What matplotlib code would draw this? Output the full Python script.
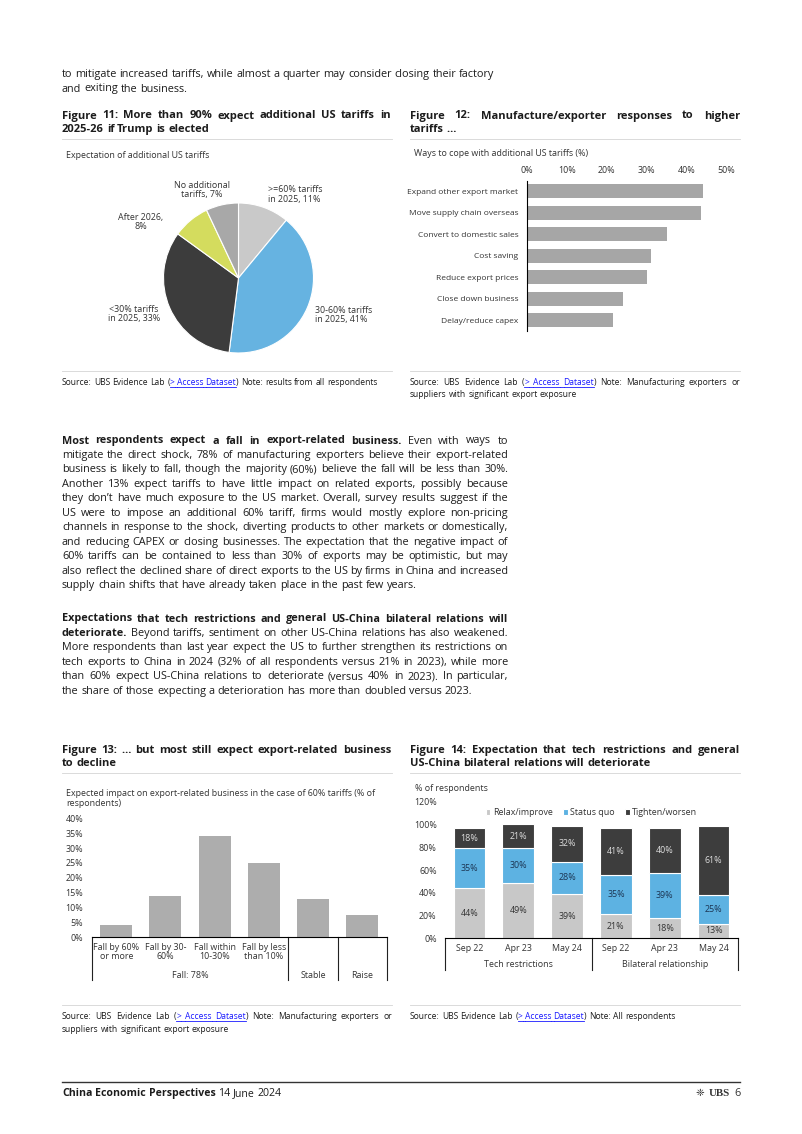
import re

import matplotlib

matplotlib.use("Agg")
import matplotlib.pyplot as plt
from matplotlib.font_manager import FontProperties
from matplotlib.lines import Line2D

W, H = 802, 1134
FONT = "Open Sans"
INK = "#1c1c1c"
RULE = "#d4d4d4"

# Figure 11: expectation of additional US tariffs (% of respondents)
pie_labels = [">=60% tariffs\nin 2025, 11%", "30-60% tariffs\nin 2025, 41%",
              "<30% tariffs\nin 2025, 33%", "After 2026,\n8%", "No additional\ntariffs, 7%"]
pie_values = [11, 41, 33, 8, 7]
pie_colors = ["#c9c9c9", "#66b3e1", "#3c3c3c", "#d4dc5e", "#a8a8a8"]

# Figure 12: ways to cope with additional US tariffs (%)
cope_labels = ["Expand other export market", "Move supply chain overseas", "Convert to domestic sales",
               "Cost saving", "Reduce export prices", "Close down business", "Delay/reduce capex"]
cope_values = [44, 43.5, 35, 31, 30, 24, 21.5]

# Figure 13: expected impact on export-related business with 60% tariffs
impact_ticks = ["Fall by 60%\nor more", "Fall by 30-\n60%", "Fall within\n10-30%",
                "Fall by less\nthan 10%", "", ""]
impact_values = [4, 14, 34, 25, 13, 7.5]
impact_groups = [("Fall: 78%", 0, 3), ("Stable", 4, 4), ("Raise", 5, 5)]

# Figure 14: expectation on tech restrictions / bilateral relations
periods = ["Sep 22", "Apr 23", "May 24", "Sep 22", "Apr 23", "May 24"]
relax = [44, 49, 39, 21, 18, 13]
status_quo = [35, 30, 28, 35, 39, 25]
tighten = [18, 21, 32, 41, 40, 61]
period_groups = [("Tech restrictions", 0, 2), ("Bilateral relationship", 3, 5)]

intro_lines = [
    [("to mitigate increased tariffs, while almost a quarter may consider closing their factory", "r")],
    [("and exiting the business.", "r")],
]

para1 = [
    [("Most respondents expect a fall in export-related business.", "b"), (" Even with ways to", "r")],
    [("mitigate the direct shock, 78% of manufacturing exporters believe their export-related", "r")],
    [("business is likely to fall, though the majority (60%) believe the fall will be less than 30%.", "r")],
    [("Another 13% expect tariffs to have little impact on related exports, possibly because", "r")],
    [("they don\u2019t have much exposure to the US market. Overall, survey results suggest if the", "r")],
    [("US were to impose an additional 60% tariff, firms would mostly explore non-pricing", "r")],
    [("channels in response to the shock, diverting products to other markets or domestically,", "r")],
    [("and reducing CAPEX or closing businesses. The expectation that the negative impact of", "r")],
    [("60% tariffs can be contained to less than 30% of exports may be optimistic, but may", "r")],
    [("also reflect the declined share of direct exports to the US by firms in China and increased", "r")],
    [("supply chain shifts that have already taken place in the past few years.", "r")],
]

para2 = [
    [("Expectations that tech restrictions and general US-China bilateral relations will", "b")],
    [("deteriorate.", "b"), (" Beyond tariffs, sentiment on other US-China relations has also weakened.", "r")],
    [("More respondents than last year expect the US to further strengthen its restrictions on", "r")],
    [("tech exports to China in 2024 (32% of all respondents versus 21% in 2023), while more", "r")],
    [("than 60% expect US-China relations to deteriorate (versus 40% in 2023). In particular,", "r")],
    [("the share of those expecting a deterioration has more than doubled versus 2023.", "r")],
]

fig = plt.figure(figsize=(W / 100, H / 100), dpi=100)
fig.patch.set_facecolor("white")
renderer = fig.canvas.get_renderer()


def fx(x):
    return x / W


def fy(y):
    return 1 - y / H


def props(style, size):
    weight = "bold" if style == "b" else "normal"
    return FontProperties(family=FONT, weight=weight, size=size)


def text_width(s, prop):
    w, _, _ = renderer.get_text_width_height_descent(s, prop, ismath=False)
    return w


def measure(runs, size):
    toks = []
    for text, style in runs:
        for m in re.findall(r"\s*\S+", text):
            toks.append((m.strip(), style, m[0].isspace()))
    prop_r = props("r", size)
    space = text_width("x x", prop_r) - text_width("xx", prop_r)
    widths = [text_width(t, props(s, size)) for t, s, _ in toks]
    n_gaps = sum(1 for i, t in enumerate(toks) if i > 0 and t[2])
    return toks, widths, space, n_gaps


def draw_line(runs, x0, y, size, width=None):
    """Draw one line of mixed-style words on baseline y, optionally justified."""
    toks, widths, space, n_gaps = measure(runs, size)
    # shrink a line that would not fit the column
    while width is not None and n_gaps and (width - sum(widths)) / n_gaps < 0.75 * space:
        size *= 0.98
        toks, widths, space, n_gaps = measure(runs, size)
    gap = space
    if width is not None and n_gaps:
        gap = (width - sum(widths)) / n_gaps
    x = x0
    prev = None
    for i, ((t, style, sb), w) in enumerate(zip(toks, widths)):
        if i > 0 and sb:
            if prev == "l" and style == "l":
                fig.add_artist(Line2D([fx(x), fx(x + gap)], [fy(y + 1.6)] * 2, color="#1a1aff", lw=0.6))
            x += gap
        color = "#1a1aff" if style == "l" else INK
        fig.text(fx(x), fy(y), t, fontproperties=props(style, size), color=color, va="baseline", ha="left")
        if style == "l":
            fig.add_artist(Line2D([fx(x), fx(x + w)], [fy(y + 1.6)] * 2, color="#1a1aff", lw=0.6))
        x += w
        prev = style


def draw_paragraph(lines, x0, y0, step, size, width):
    for i, runs in enumerate(lines):
        last = i == len(lines) - 1
        draw_line(runs, x0, y0 + i * step, size, None if last else width)


def hrule(x0, x1, y, color=RULE, lw=0.6):
    fig.add_artist(Line2D([fx(x0), fx(x1)], [fy(y), fy(y)], color=color, lw=lw))


def add_axes_px(x0, y0, x1, y1):
    return fig.add_axes([fx(x0), fy(y1), (x1 - x0) / W, (y1 - y0) / H])


BODY = 7.8
TITLE = 8.0
CHART = 6.4
NOTE = 6.15

# body text
draw_paragraph(intro_lines, 62, 77, 14.5, BODY, None)
draw_paragraph(para1, 62, 443.5, 14.45, BODY, 446)
draw_paragraph(para2, 62, 621.5, 14.47, BODY, 446)

# figure titles
draw_paragraph([[("Figure 11: More than 90% expect additional US tariffs in", "b")],
                [("2025-26 if Trump is elected", "b")]], 62, 118.5, 13.5, TITLE, 329)
draw_paragraph([[("Figure 12: Manufacture/exporter responses to higher", "b")],
                [("tariffs \u2026", "b")]], 410, 118.5, 13.5, TITLE, 330)
draw_paragraph([[("Figure 13: \u2026 but most still expect export-related business", "b")],
                [("to decline", "b")]], 62, 753, 13.5, TITLE, 329)
draw_paragraph([[("Figure 14: Expectation that tech restrictions and general", "b")],
                [("US-China bilateral relations will deteriorate", "b")]], 410, 753, 13.5, TITLE, 330)
for y in (139, 773):
    hrule(62, 392, y)
    hrule(410, 740, y)
for y in (371, 1005):
    hrule(62, 392, y)
    hrule(410, 740, y)

# sources
src = [("Source: UBS Evidence Lab (", "r"), ("> Access Dataset", "l"), (")", "r")]
draw_line(src + [(" Note: results from all respondents", "r")], 62, 385, NOTE)
draw_paragraph([src + [(" Note: Manufacturing exporters or", "r")],
                [("suppliers with significant export exposure", "r")]], 410, 385, 12.5, NOTE, 330)
draw_paragraph([src + [(" Note: Manufacturing exporters or", "r")],
                [("suppliers with significant export exposure", "r")]], 62, 1019, 12.5, NOTE, 330)
draw_line(src + [(" Note: All respondents", "r")], 410, 1019, NOTE)

# footer
hrule(62, 740, 1082, color="#333333", lw=1.0)
draw_line([("China Economic Perspectives", "b"), ("  14 June 2024", "r")], 62, 1096, 7.6)
fig.text(fx(704), fy(1096), "\u2748", fontsize=7.5, family="DejaVu Sans", color="#333333",
         va="baseline", ha="right")
fig.text(fx(729.5), fy(1096), "UBS", fontsize=7.8, family="Liberation Serif", weight="bold",
         color="#333333", va="baseline", ha="right")
fig.text(fx(741), fy(1096), "6", fontsize=7.8, family=FONT, color="#333333", va="baseline", ha="right")

# ---- Figure 11: pie
fig.text(fx(66), fy(155), "Expectation of additional US tariffs", family=FONT, fontsize=CHART,
         color="#333333", va="center")
ax = add_axes_px(163.5, 203, 313.5, 353)
ax.pie(pie_values, colors=pie_colors, startangle=90, counterclock=False,
       wedgeprops=dict(edgecolor="white", linewidth=0.8))
ax.set_xlim(-1, 1)
ax.set_ylim(-1, 1)
pie_label_pos = [(268, 194.5, "left"), (315, 315, "left"), (134, 314, "center"),
                 (141, 222, "center"), (202, 190, "center")]
for lab, (lx, ly, ha) in zip(pie_labels, pie_label_pos):
    fig.text(fx(lx), fy(ly), lab, family=FONT, fontsize=CHART, color="#333333", ha=ha,
             va="center", multialignment="center" if ha == "center" else "left", linespacing=1.05)

# ---- Figure 12: horizontal bars
fig.text(fx(414), fy(154), "Ways to cope with additional US tariffs (%)", family=FONT,
         fontsize=CHART, color="#333333", va="center")
ax = add_axes_px(526.7, 180.5, 726.7, 331)
ax.barh(range(len(cope_values)), cope_values, height=0.65, color="#a6a6a6")
ax.set_xlim(0, 50)
ax.set_ylim(len(cope_values) - 0.5, -0.5)
ax.set_xticks(range(0, 51, 10))
ax.set_xticklabels([f"{v}%" for v in range(0, 51, 10)])
ax.xaxis.tick_top()
ax.set_yticks(range(len(cope_labels)))
ax.set_yticklabels(cope_labels)
ax.tick_params(axis="x", length=0, pad=4, labelsize=CHART, labelcolor="#333333")
ax.tick_params(axis="y", length=0, pad=6, labelsize=6.0, labelcolor="#333333")
for s in ("top", "right", "bottom"):
    ax.spines[s].set_visible(False)
ax.spines["left"].set_linewidth(0.8)
for lab in ax.get_xticklabels() + ax.get_yticklabels():
    lab.set_family(FONT)

# ---- Figure 13: vertical bars with grouped category table
fig.text(fx(66.5), fy(794), "Expected impact on export-related business in the case of 60% tariffs (% of",
         family=FONT, fontsize=CHART, color="#333333", va="center")
fig.text(fx(66.5), fy(803.5), "respondents)", family=FONT, fontsize=CHART, color="#333333", va="center")
ax = add_axes_px(91.7, 818.3, 386.7, 937.3)
xs = range(len(impact_values))
ax.bar(xs, impact_values, width=0.65, color="#adadad")
ax.set_xlim(-0.5, len(impact_values) - 0.5)
ax.set_ylim(0, 40)
ax.set_yticks(range(0, 41, 5))
ax.set_yticklabels([f"{v}%" for v in range(0, 41, 5)])
ax.set_xticks(list(xs))
ax.set_xticklabels(impact_ticks, linespacing=1.0)
ax.tick_params(axis="both", length=0, labelsize=CHART, labelcolor="#333333")
ax.tick_params(axis="y", pad=6)
ax.tick_params(axis="x", pad=4)
for s in ("top", "right", "left"):
    ax.spines[s].set_visible(False)
ax.spines["bottom"].set_linewidth(0.8)
for lab in ax.get_xticklabels() + ax.get_yticklabels():
    lab.set_family(FONT)
trans = ax.get_xaxis_transform()
edges = sorted({g[1] - 0.5 for g in impact_groups} | {g[2] + 0.5 for g in impact_groups})
for e in edges:
    ax.plot([e, e], [0, -0.36], color="#222222", lw=0.8, transform=trans, clip_on=False)
for name, a, b in impact_groups:
    ax.text((a + b) / 2, -0.325, name, transform=trans, ha="center", va="center",
            family=FONT, fontsize=CHART, color="#333333")

# ---- Figure 14: stacked bars
fig.text(fx(415), fy(788.5), "% of respondents", family=FONT, fontsize=CHART, color="#333333", va="center")
ax = add_axes_px(445, 801.7, 738, 938.3)
xs = list(range(len(periods)))
bottom2 = [a + b for a, b in zip(relax, status_quo)]
series = [
    ("Relax/improve", relax, [0] * len(relax), "#c8c8c8", "#333333"),
    ("Status quo", status_quo, relax, "#5db2e2", "#1c3553"),
    ("Tighten/worsen", tighten, bottom2, "#3d3d3d", "#dcdcdc"),
]
for name, vals, bot, col, tcol in series:
    bars = ax.bar(xs, vals, bottom=bot, width=0.65, color=col, edgecolor="white", linewidth=0.8,
                  label=name)
    ax.bar_label(bars, labels=[f"{v}%" for v in vals], label_type="center", color=tcol,
                 fontsize=CHART, family=FONT)
ax.set_xlim(-0.5, len(periods) - 0.5)
ax.set_ylim(0, 120)
ax.set_yticks(range(0, 121, 20))
ax.set_yticklabels([f"{v}%" for v in range(0, 121, 20)])
ax.set_xticks(xs)
ax.set_xticklabels(periods)
ax.tick_params(axis="both", length=0, labelsize=CHART, labelcolor="#333333")
ax.tick_params(axis="y", pad=6)
ax.tick_params(axis="x", pad=4)
for s in ("top", "right", "left"):
    ax.spines[s].set_visible(False)
ax.spines["bottom"].set_linewidth(0.8)
for lab in ax.get_xticklabels() + ax.get_yticklabels():
    lab.set_family(FONT)
trans = ax.get_xaxis_transform()
edges = sorted({g[1] - 0.5 for g in period_groups} | {g[2] + 0.5 for g in period_groups})
for e in edges:
    ax.plot([e, e], [0, -0.232], color="#222222", lw=0.8, transform=trans, clip_on=False)
for name, a, b in period_groups:
    ax.text((a + b) / 2, -0.195, name, transform=trans, ha="center", va="center",
            family=FONT, fontsize=CHART, color="#333333")
leg = ax.legend(ncol=3, loc="center", bbox_to_anchor=(0.5, 0.919), frameon=False,
                prop=FontProperties(family=FONT, size=CHART), handlelength=0.55, handleheight=0.55,
                handletextpad=0.3, columnspacing=1.1, borderaxespad=0)
for t in leg.get_texts():
    t.set_color("#333333")

fig.savefig("out.png", dpi=100, facecolor="white")
